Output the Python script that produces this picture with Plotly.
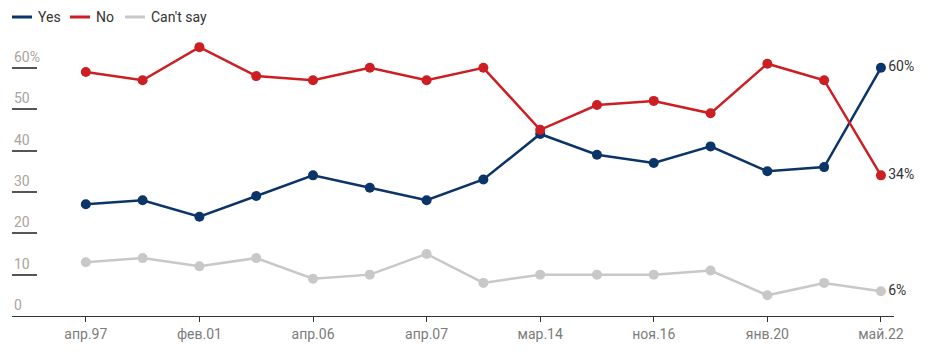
import plotly.graph_objects as go

# ---- data ----
tick_labels = ["апр.97", "фев.01", "апр.06", "апр.07", "мар.14", "ноя.16", "янв.20", "май.22"]
yes_values = [27, 28, 24, 29, 34, 31, 28, 33, 44, 39, 37, 41, 35, 36, 60]
no_values = [59, 57, 65, 58, 57, 60, 57, 60, 45, 51, 52, 49, 61, 57, 34]
cant_say_values = [13, 14, 12, 14, 9, 10, 15, 8, 10, 10, 10, 11, 5, 8, 6]
y_ticks = [0, 10, 20, 30, 40, 50, 60]
y_tick_text = ["0", "10", "20", "30", "40", "50", "60%"]

series_names = ["Yes", "No", "Can't say"]
series_values = [yes_values, no_values, cant_say_values]
series_colors = ["#0b3468", "#cc1f24", "#c8c8c8"]

n = len(yes_values)
x = list(range(n))
tick_positions = list(range(0, n, 2))

# layout geometry (pixels)
W, H = 940, 359
ML, MR, MT, MB = 12, 46, 43, 43
plot_w = W - ML - MR
plot_h = H - MT - MB
legend_start_px = [12, 70, 125]   # left edge of each legend entry
legend_y_px = 17


def px_to_paper_x(px):
    return (px - ML) / plot_w


def px_to_paper_y(py):
    return (H - MB - py) / plot_h


fig = go.Figure()

for name, vals, color in zip(series_names, series_values, series_colors):
    texts = [""] * (n - 1) + [f"{vals[-1]}%"]
    fig.add_trace(go.Scatter(
        x=x, y=vals, mode="lines+markers+text", name=name,
        text=texts, textposition="middle right",
        textfont=dict(size=14, color="#333333", family="Roboto"),
        line=dict(color=color, width=2.5),
        marker=dict(color=color, size=10),
        showlegend=False, cliponaxis=False,
    ))

annotations = []
shapes = []
for v, t in zip(y_ticks, y_tick_text):
    annotations.append(dict(
        x=0, xref="paper", y=v, yref="y", text=t, showarrow=False,
        xanchor="left", yanchor="bottom", xshift=0, yshift=1,
        font=dict(size=14, color="#aaa49c", family="Roboto"),
    ))

# custom legend: short line + label
ly = px_to_paper_y(legend_y_px)
for name, color, sx in zip(series_names, series_colors, legend_start_px):
    shapes.append(dict(
        type="line", xref="paper", yref="paper",
        x0=px_to_paper_x(sx), x1=px_to_paper_x(sx + 20), y0=ly, y1=ly,
        line=dict(color=color, width=3),
    ))
    annotations.append(dict(
        x=px_to_paper_x(sx + 24), xref="paper", y=ly, yref="paper",
        text=name, showarrow=False, xanchor="left", yanchor="middle",
        font=dict(size=14, color="#333333", family="Roboto"),
    ))

fig.update_layout(
    width=W, height=H,
    margin=dict(l=ML, r=MR, t=MT, b=MB, autoexpand=False),
    paper_bgcolor="white", plot_bgcolor="white",
    font=dict(family="Roboto", size=14, color="#333333"),
    showlegend=False,
    xaxis=dict(
        range=[-1.30, 14.23], tickmode="array",
        tickvals=tick_positions, ticktext=tick_labels,
        showgrid=False, zeroline=False,
        showline=True, linecolor="#333333", linewidth=1,
        ticks="outside", ticklen=5, tickcolor="#333333", tickwidth=1,
        tickfont=dict(size=14, color="#7b7b7b"),
    ),
    yaxis=dict(
        range=[0, 66], tickmode="array", tickvals=y_ticks,
        showticklabels=False, showgrid=False, zeroline=False, showline=False,
        ticks="inside", ticklen=25, tickcolor="#555555", tickwidth=1.5,
    ),
    annotations=annotations,
    shapes=shapes,
)

fig.write_html(
    "out.html",
    config={"displayModeBar": False},
    post_script="document.body.style.margin='0';document.body.style.overflow='hidden';",
)
